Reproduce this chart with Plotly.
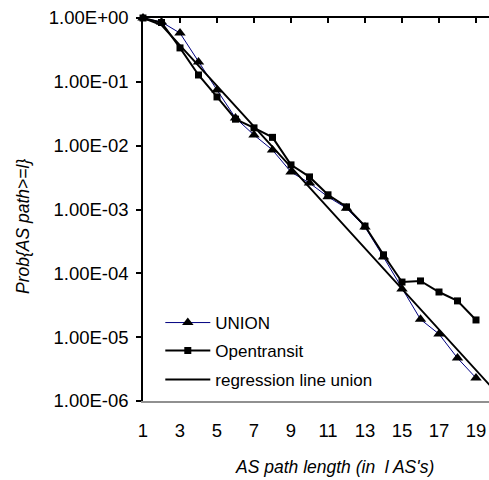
import plotly.graph_objects as go

# ---- data ----
path_len = [1, 2, 3, 4, 5, 6, 7, 8, 9, 10, 11, 12, 13, 14, 15, 16, 17, 18, 19]
union = [1.0, 0.865, 0.58, 0.205, 0.0745, 0.0271, 0.0147, 0.00855, 0.00386, 0.0026,
         0.00158, 0.00105, 5.3e-4, 1.8e-4, 5.7e-5, 1.9e-5, 1.12e-5, 4.7e-6, 2.3e-6]
opentransit = [1.0, 0.85, 0.34, 0.128, 0.058, 0.026, 0.019, 0.0135, 0.0050, 0.00324,
               0.0017, 0.0011, 5.5e-4, 1.95e-4, 7.3e-5, 7.6e-5, 5.1e-5, 3.7e-5, 1.86e-5]
reg_len = [1, 2, 3, 4, 5, 6, 7, 8, 9, 10, 11, 12, 13, 14, 15, 16, 17, 18, 19, 20]
regression = [1.0, 0.776, 0.373, 0.1795, 0.0863, 0.0415, 0.01995, 0.00959, 0.00461, 0.00222,
              0.00107, 5.13e-4, 2.47e-4, 1.186e-4, 5.70e-5, 2.74e-5, 1.318e-5, 6.34e-6,
              3.05e-6, 1.466e-6]
y_tickvals = [1, 1e-1, 1e-2, 1e-3, 1e-4, 1e-5, 1e-6]
y_ticktext = ["1.00E+00", "1.00E-01", "1.00E-02", "1.00E-03", "1.00E-04", "1.00E-05", "1.00E-06"]
x_tickvals = [1, 3, 5, 7, 9, 11, 13, 15, 17, 19]

FONT = "Liberation Sans, Arial, sans-serif"

fig = go.Figure()
fig.add_trace(go.Scatter(
    x=path_len, y=union, name="UNION", mode="lines+markers",
    line=dict(color="#000080", width=1),
    marker=dict(symbol="triangle-up", size=10, color="black"),
    cliponaxis=False, legend="legend"))
fig.add_trace(go.Scatter(
    x=path_len, y=opentransit, name="Opentransit", mode="lines+markers",
    line=dict(color="black", width=2),
    marker=dict(symbol="square", size=7, color="black"),
    cliponaxis=False, legend="legend2"))
fig.add_trace(go.Scatter(
    x=reg_len, y=regression, name="regression line union", mode="lines",
    line=dict(color="black", width=2),
    cliponaxis=False, legend="legend3"))

xr = [1, 1 + 346 / 18.5]
leg_common = dict(bgcolor="rgba(0,0,0,0)", borderwidth=0,
                  font=dict(family=FONT, size=17, color="black"),
                  xanchor="left", yanchor="middle", x=0.05, itemwidth=45)

fig.update_layout(
    width=489, height=480,
    margin=dict(l=143, r=0, t=18, b=79),
    paper_bgcolor="white", plot_bgcolor="white",
    font=dict(family=FONT, size=18, color="black"),
    xaxis=dict(range=xr, side="top", showline=True, linecolor="black", linewidth=1.5,
               ticks="inside", ticklen=5, tickcolor="black", tickwidth=1.5,
               tickvals=x_tickvals, showticklabels=False, showgrid=False, zeroline=False),
    xaxis2=dict(range=xr, overlaying="x", side="bottom", anchor="y", showline=True,
                linecolor="#909090", linewidth=2, ticks="", tickvals=x_tickvals,
                ticktext=[str(v) for v in x_tickvals], ticklabelstandoff=12,
                showgrid=False, zeroline=False, tickfont=dict(size=18.5)),
    yaxis=dict(type="log", range=[-6, 0], showline=True, linecolor="black", linewidth=1.5,
               ticks="outside", ticklen=5, tickcolor="black", tickwidth=1.5,
               tickvals=y_tickvals, ticktext=y_ticktext, ticklabelstandoff=4,
               showgrid=False, zeroline=False, tickfont=dict(size=18.5)),
    legend=dict(**leg_common, y=(401 - 323) / 383),
    legend2=dict(**leg_common, y=(401 - 351) / 383),
    legend3=dict(**leg_common, y=(401 - 380) / 383),
    showlegend=True,
)
# empty trace so the bottom label axis is rendered
fig.add_trace(go.Scatter(x=[None], y=[None], xaxis="x2", yaxis="y", showlegend=False, hoverinfo="skip"))

fig.add_annotation(text="<i>Prob{AS path>=l}</i>", textangle=-90, xref="paper", yref="paper",
                   x=(23 - 143) / 346, y=(401 - 227) / 383, showarrow=False,
                   xanchor="center", yanchor="middle", font=dict(size=17.5))
fig.add_annotation(text="<i>AS path length (in  l AS's)</i>", xref="paper", yref="paper",
                   x=(334 - 143) / 346, y=(401 - 467) / 383, showarrow=False,
                   xanchor="center", yanchor="middle", font=dict(size=17.5))

fig.write_html("out.html")
